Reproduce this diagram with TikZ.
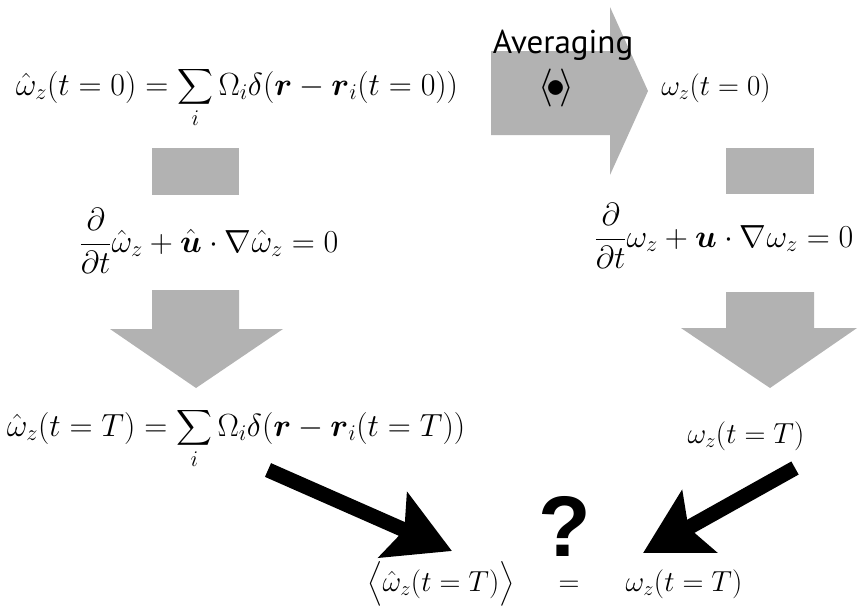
\RequirePackage{fix-cm}
\documentclass[tikz,border=0pt]{standalone}
\usepackage{amsmath}
\usepackage{fontspec}
\newfontfamily\avgfont{PT Sans}
\newfontfamily\qfont{Liberation Sans}
\usetikzlibrary{arrows.meta}

\begin{document}
\begin{tikzpicture}[x=1pt,y=-1pt,
    eq/.style={font=\fontsize{32}{38}\selectfont,inner sep=0pt,anchor=base},
    eqs/.style={eq,font=\fontsize{29}{35}\selectfont},
    shade/.style={fill=black!30,draw=none},
    fat/.style={line width=15pt,-{Stealth[length=64pt,width=70pt,inset=12pt]}}]
    \useasboundingbox (0,0) rectangle (858,606);

    % gray blocks
    \fill[shade] (491,51)--(610,51)--(610,7)--(648,91)--(610,175)--(610,135)--(491,135)--cycle;
    \fill[shade] (152,148) rectangle (239,195);
    \fill[shade] (726,148) rectangle (814,194);
    \fill[shade] (152,290)--(239,290)--(239,329)--(283,329)--(196,388)--(110,329)--(152,329)--cycle;
    \fill[shade] (726,292)--(814,292)--(814,328)--(857,328)--(770,388)--(681,328)--(726,328)--cycle;

    \node[font=\avgfont\fontsize{33}{40}\selectfont,inner sep=0pt,anchor=base] (avglabel) at (563,53) {Averaging};
    \node[font=\fontsize{38}{44}\selectfont,inner sep=0pt] (avgop) at (556,88) {$\langle\mkern-3mu\bullet\mkern-3mu\rangle$};

    % formulas
    \node[eq] (w0h) at (237,95) {$\hat\omega_z(t=0)=\displaystyle\sum_i\Omega_i\delta(\boldsymbol{r}-\boldsymbol{r}_i(t=0))$};
    \node[eqs] (w0) at (716,95) {$\omega_z(t=0)$};
    \node[eq] (eqh) at (209,252) {$\dfrac{\partial}{\partial t}\hat\omega_z+\hat{\boldsymbol{u}}\cdot\nabla\hat\omega_z=0$};
    \node[eq] (eq) at (724,247) {$\dfrac{\partial}{\partial t}\omega_z+\boldsymbol{u}\cdot\nabla\omega_z=0$};
    \node[eq] (wTh) at (236,436) {$\hat\omega_z(t=T)=\displaystyle\sum_i\Omega_i\delta(\boldsymbol{r}-\boldsymbol{r}_i(t=T))$};
    \node[eqs] (wT) at (746,443) {$\omega_z(t=T)$};
    \node[eqs] (avgL) at (441,591) {$\bigl\langle\hat\omega_z(t=T)\bigr\rangle$};
    \node[eqs] (eqsign) at (569,591) {$=$};
    \node[eqs] (avgR) at (684,591) {$\omega_z(t=T)$};

    \node[font=\qfont\bfseries\fontsize{86}{90}\selectfont,inner sep=0pt] (qmark) at (565,526) {?};

    % black arrows
    \coordinate (s1) at (268,470);
    \coordinate (t1) at (452,551);
    \coordinate (s2) at (795,468);
    \coordinate (t2) at (643,553);
    \draw[fat] (s1)--(t1);
    \draw[fat] (s2)--(t2);
\end{tikzpicture}
\end{document}
